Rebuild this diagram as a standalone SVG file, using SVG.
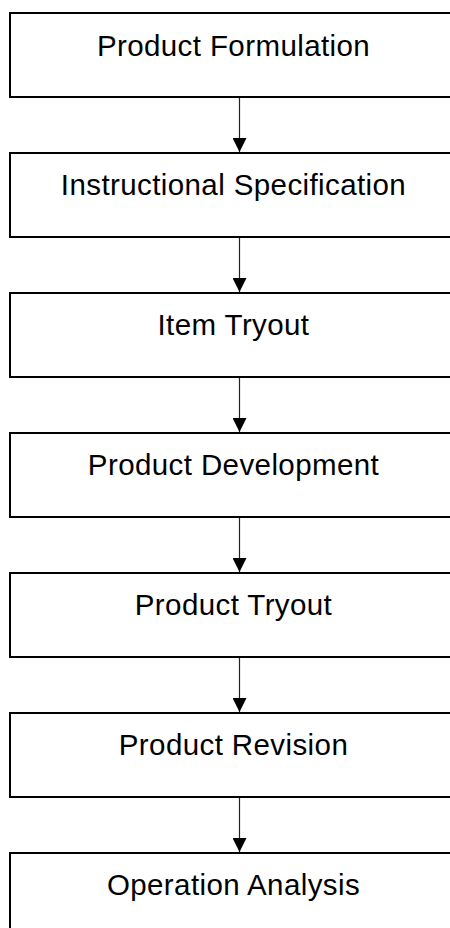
<svg xmlns="http://www.w3.org/2000/svg" width="450" height="928" viewBox="0 0 450 928">
  <style>
    .box { fill: #ffffff; stroke: #000000; stroke-width: 2; }
    .label { font-family: "Liberation Sans", Arial, sans-serif; font-size: 29.5px; letter-spacing: 0.4px; fill: #000000; text-anchor: middle; }
    .link { stroke: #222222; stroke-width: 1.2; fill: none; marker-end: url(#arrow); }
  </style>
  <defs>
    <marker id="arrow" markerUnits="userSpaceOnUse" markerWidth="14" markerHeight="14" refX="14" refY="7" orient="auto">
      <path d="M0,0 L14,7 L0,14 Z" fill="#000000"/>
    </marker>
  </defs>
  <rect width="450" height="928" fill="#ffffff"/>

  <!-- process steps, top to bottom -->
  <g id="product-formulation">
    <rect class="box" x="10" y="13" width="460" height="84"/>
    <text class="label" x="233.5" y="55.5">Product Formulation</text>
  </g>
  <g id="instructional-specification">
    <rect class="box" x="10" y="153" width="460" height="84"/>
    <text class="label" x="233.5" y="194.5">Instructional Specification</text>
  </g>
  <g id="item-tryout">
    <rect class="box" x="10" y="293" width="460" height="84"/>
    <text class="label" x="233.5" y="334.5">Item Tryout</text>
  </g>
  <g id="product-development">
    <rect class="box" x="10" y="433" width="460" height="84"/>
    <text class="label" x="233.5" y="474.5">Product Development</text>
  </g>
  <g id="product-tryout">
    <rect class="box" x="10" y="573" width="460" height="84"/>
    <text class="label" x="233.5" y="614.5">Product Tryout</text>
  </g>
  <g id="product-revision">
    <rect class="box" x="10" y="713" width="460" height="84"/>
    <text class="label" x="233.5" y="754.5">Product Revision</text>
  </g>
  <g id="operation-analysis">
    <rect class="box" x="10" y="853" width="460" height="84"/>
    <text class="label" x="233.5" y="894.5">Operation Analysis</text>
  </g>

  <!-- connectors -->
  <g id="connectors">
    <line class="link" x1="239.5" y1="98" x2="239.5" y2="152"/>
    <line class="link" x1="239.5" y1="238" x2="239.5" y2="292"/>
    <line class="link" x1="239.5" y1="378" x2="239.5" y2="432"/>
    <line class="link" x1="239.5" y1="518" x2="239.5" y2="572"/>
    <line class="link" x1="239.5" y1="658" x2="239.5" y2="712"/>
    <line class="link" x1="239.5" y1="798" x2="239.5" y2="852"/>
  </g>
</svg>
